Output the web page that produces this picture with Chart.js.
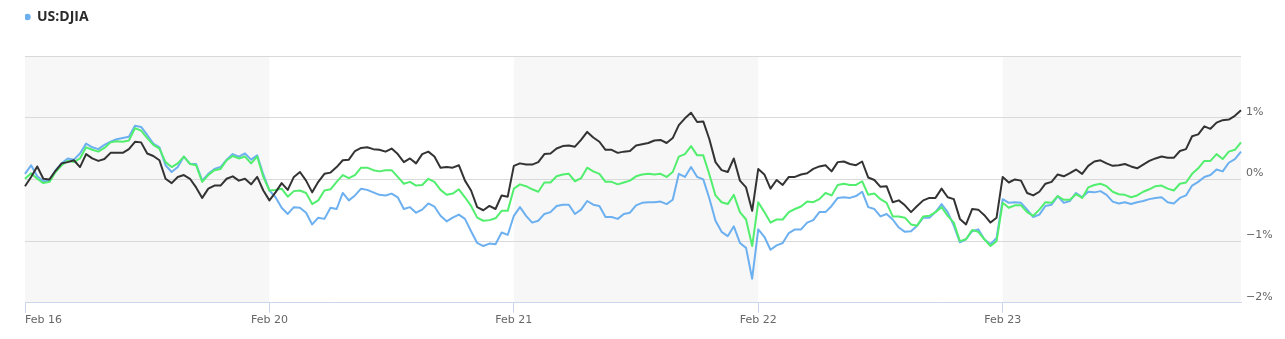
<!DOCTYPE html>
<html><head><meta charset="utf-8">
<script src="https://cdn.jsdelivr.net/npm/chart.js@4.4.0/dist/chart.umd.min.js"></script>
<style>html,body{margin:0;padding:0;background:#fff;overflow:hidden}</style>
</head><body>
<canvas id="c" width="1285" height="339"></canvas>
<script>
const dayLabels = ['Feb 16', 'Feb 20', 'Feb 21', 'Feb 22', 'Feb 23'];
const pointsPerDay = 40;
const yTickValues = [-2, -1, 0, 1, 2];
const seriesNames = ['Index A', 'Index B', 'US:DJIA'];

// values in %, 40 samples per trading day
const seriesBlack = [
  -0.11, 0.04, 0.21, 0.01, 0.00, 0.14, 0.26, 0.28, 0.31, 0.20, 0.41, 0.34, 0.30, 0.33, 0.43, 0.43, 0.43, 0.49, 0.61, 0.60, 0.42, 0.38, 0.31, 0.01, -0.06, 0.04, 0.07, 0.01, -0.13, -0.30, -0.15, -0.10, -0.10, 0.01, 0.05, -0.02, 0.01, -0.08, 0.04, -0.18,
  -0.34, -0.21, -0.06, -0.17, 0.04, 0.12, -0.02, -0.21, -0.04, 0.09, 0.11, 0.20, 0.31, 0.32, 0.46, 0.51, 0.52, 0.49, 0.48, 0.45, 0.50, 0.41, 0.28, 0.34, 0.26, 0.41, 0.45, 0.37, 0.19, 0.20, 0.19, 0.23, -0.02, -0.18, -0.45, -0.50, -0.43, -0.48, -0.26, -0.28,
  0.22, 0.26, 0.24, 0.24, 0.28, 0.41, 0.42, 0.50, 0.54, 0.55, 0.53, 0.64, 0.77, 0.68, 0.61, 0.48, 0.48, 0.43, 0.45, 0.46, 0.55, 0.57, 0.59, 0.63, 0.64, 0.59, 0.67, 0.88, 0.99, 1.08, 0.93, 0.94, 0.65, 0.28, 0.15, 0.12, 0.34, -0.02, -0.13, -0.51,
  0.17, 0.08, -0.15, -0.01, -0.09, 0.04, 0.04, 0.08, 0.10, 0.17, 0.21, 0.23, 0.13, 0.28, 0.29, 0.25, 0.23, 0.29, 0.03, -0.01, -0.12, -0.11, -0.37, -0.34, -0.42, -0.53, -0.43, -0.34, -0.30, -0.30, -0.15, -0.29, -0.32, -0.64, -0.73, -0.48, -0.49, -0.58, -0.70, -0.62,
  0.04, -0.05, 0.00, -0.02, -0.22, -0.26, -0.20, -0.07, -0.04, 0.08, 0.05, 0.10, 0.16, 0.09, 0.22, 0.29, 0.31, 0.26, 0.22, 0.23, 0.25, 0.21, 0.18, 0.24, 0.30, 0.34, 0.37, 0.35, 0.35, 0.46, 0.49, 0.70, 0.73, 0.86, 0.82, 0.92, 0.96, 0.97, 1.03, 1.12
];
const seriesGreen = [
  0.01, 0.10, 0.01, -0.06, -0.04, 0.12, 0.23, 0.30, 0.28, 0.34, 0.52, 0.48, 0.45, 0.51, 0.60, 0.62, 0.61, 0.63, 0.83, 0.79, 0.67, 0.56, 0.50, 0.28, 0.20, 0.26, 0.37, 0.25, 0.23, -0.04, 0.07, 0.15, 0.17, 0.31, 0.38, 0.34, 0.37, 0.26, 0.37, 0.04,
  -0.18, -0.17, -0.15, -0.28, -0.19, -0.18, -0.22, -0.40, -0.34, -0.18, -0.16, -0.04, 0.07, 0.02, 0.07, 0.19, 0.19, 0.15, 0.13, 0.15, 0.15, 0.04, -0.07, -0.04, -0.10, -0.09, 0.01, -0.04, -0.17, -0.25, -0.23, -0.16, -0.29, -0.43, -0.62, -0.67, -0.66, -0.63, -0.51, -0.51,
  -0.15, -0.08, -0.11, -0.16, -0.20, -0.05, -0.05, 0.05, 0.08, 0.09, -0.03, 0.02, 0.19, 0.13, 0.09, -0.04, -0.04, -0.08, -0.05, -0.02, 0.05, 0.08, 0.09, 0.08, 0.09, 0.04, 0.12, 0.37, 0.41, 0.54, 0.39, 0.39, 0.08, -0.26, -0.37, -0.40, -0.25, -0.53, -0.65, -1.08,
  -0.37, -0.53, -0.70, -0.65, -0.65, -0.53, -0.48, -0.44, -0.36, -0.37, -0.32, -0.22, -0.26, -0.09, -0.07, -0.09, -0.09, -0.03, -0.25, -0.23, -0.32, -0.38, -0.60, -0.60, -0.62, -0.73, -0.75, -0.60, -0.59, -0.53, -0.45, -0.59, -0.70, -1.00, -0.97, -0.82, -0.85, -0.97, -1.08, -1.00,
  -0.38, -0.46, -0.42, -0.42, -0.53, -0.59, -0.49, -0.37, -0.38, -0.27, -0.33, -0.33, -0.24, -0.30, -0.13, -0.09, -0.07, -0.11, -0.20, -0.24, -0.25, -0.29, -0.26, -0.20, -0.16, -0.11, -0.10, -0.15, -0.18, -0.07, -0.05, 0.09, 0.18, 0.30, 0.30, 0.41, 0.33, 0.45, 0.48, 0.60
];
const seriesDjia = [
  0.09, 0.23, 0.05, -0.03, -0.02, 0.15, 0.26, 0.34, 0.32, 0.42, 0.58, 0.52, 0.49, 0.56, 0.61, 0.65, 0.67, 0.69, 0.87, 0.85, 0.72, 0.58, 0.52, 0.23, 0.12, 0.20, 0.37, 0.25, 0.25, -0.02, 0.09, 0.17, 0.20, 0.32, 0.41, 0.37, 0.42, 0.32, 0.39, 0.08,
  -0.18, -0.29, -0.46, -0.56, -0.45, -0.46, -0.54, -0.73, -0.62, -0.64, -0.46, -0.48, -0.22, -0.34, -0.26, -0.15, -0.17, -0.21, -0.25, -0.26, -0.23, -0.29, -0.48, -0.45, -0.54, -0.49, -0.39, -0.44, -0.59, -0.68, -0.62, -0.57, -0.64, -0.84, -1.03, -1.08, -1.04, -1.05, -0.86, -0.90,
  -0.59, -0.45, -0.59, -0.70, -0.67, -0.56, -0.53, -0.43, -0.41, -0.41, -0.56, -0.49, -0.35, -0.41, -0.43, -0.61, -0.61, -0.64, -0.56, -0.54, -0.42, -0.38, -0.37, -0.37, -0.36, -0.40, -0.33, 0.09, 0.04, 0.20, 0.04, 0.00, -0.31, -0.67, -0.85, -0.92, -0.76, -1.03, -1.11, -1.61,
  -0.81, -0.93, -1.14, -1.07, -1.03, -0.87, -0.81, -0.81, -0.70, -0.66, -0.53, -0.53, -0.43, -0.30, -0.29, -0.30, -0.27, -0.20, -0.45, -0.48, -0.60, -0.56, -0.65, -0.78, -0.85, -0.84, -0.75, -0.62, -0.62, -0.53, -0.40, -0.53, -0.75, -1.02, -0.97, -0.84, -0.81, -0.97, -1.05, -0.95,
  -0.32, -0.38, -0.37, -0.38, -0.49, -0.61, -0.57, -0.43, -0.41, -0.27, -0.38, -0.35, -0.22, -0.29, -0.20, -0.21, -0.19, -0.25, -0.36, -0.39, -0.37, -0.40, -0.37, -0.35, -0.32, -0.30, -0.29, -0.37, -0.39, -0.30, -0.26, -0.10, -0.04, 0.04, 0.07, 0.16, 0.13, 0.27, 0.33, 0.45
];

const categoryLabels = [];
dayLabels.forEach(d => { for (let k = 0; k < pointsPerDay; k++) categoryLabels.push(k === 0 ? d : ''); });
const lastIndex = categoryLabels.length - 1;

const tickFont = { family: '"DejaVu Sans", sans-serif', size: 11 };

const bandPlugin = {
  id: 'dayBands',
  beforeDraw(chart) {
    const { ctx, chartArea: a, scales: { x } } = chart;
    ctx.save();
    ctx.fillStyle = '#f7f7f7';
    for (let d = 0; d < dayLabels.length; d += 2) {
      const x0 = x.getPixelForValue(d * pointsPerDay);
      const x1 = d + 1 < dayLabels.length ? x.getPixelForValue((d + 1) * pointsPerDay) : a.right;
      ctx.fillRect(x0, a.top, x1 - x0, a.bottom - a.top);
    }
    ctx.restore();
  }
};
const legendSpace = {
  id: 'legendSpace',
  beforeLayout(chart) {
    const lg = chart.legend;
    if (lg && !lg._patched) {
      const fit = lg.fit;
      lg.fit = function () { fit.call(this); this.height += 22; };
      lg._patched = true;
    }
  }
};

new Chart(document.getElementById('c'), {
  type: 'line',
  data: {
    labels: categoryLabels,
    datasets: [
      { label: seriesNames[0], data: seriesBlack, borderColor: '#333333', backgroundColor: '#333333' },
      { label: seriesNames[1], data: seriesGreen, borderColor: '#52ee6e', backgroundColor: '#52ee6e' },
      { label: seriesNames[2], data: seriesDjia, borderColor: '#6cb0f0', backgroundColor: '#6cb0f0' }
    ]
  },
  options: {
    responsive: false,
    devicePixelRatio: 1,
    animation: false,
    events: [],
    elements: {
      line: { borderWidth: 2, tension: 0, borderJoinStyle: 'round', fill: false },
      point: { radius: 0, hoverRadius: 0 }
    },
    layout: { padding: { left: 25, right: 0, top: 10, bottom: 11 } },
    plugins: {
      tooltip: { enabled: false },
      legend: {
        position: 'top',
        align: 'start',
        labels: {
          usePointStyle: true,
          pointStyle: 'circle',
          boxWidth: 5,
          boxHeight: 4.5,
          padding: 0,
          color: '#2b2b2b',
          font: { family: '"Open Sans", sans-serif', size: 14, weight: 'bold' },
          generateLabels(chart) {
            return Chart.defaults.plugins.legend.labels.generateLabels(chart)
              .filter(i => i.datasetIndex === 2)
              .map(i => Object.assign(i, { lineWidth: 0 }));
          }
        }
      }
    },
    scales: {
      x: {
        type: 'category',
        offset: false,
        afterBuildTicks(axis) {
          axis.ticks = axis.ticks.filter(t => t.value % pointsPerDay === 0 || t.value === lastIndex);
        },
        grid: {
          drawOnChartArea: false,
          drawTicks: true,
          tickLength: 10,
          color: (c) => (c.tick && c.tick.value === lastIndex) ? 'rgba(0,0,0,0)' : '#ccd6eb'
        },
        border: { display: true, color: '#ccd6eb' },
        ticks: { autoSkip: false, maxRotation: 0, align: 'inner', padding: 1, color: '#666666', font: tickFont }
      },
      y: {
        position: 'right',
        min: yTickValues[0],
        max: yTickValues[yTickValues.length - 1],
        afterBuildTicks(axis) { axis.ticks = yTickValues.map(v => ({ value: v })); },
        afterFit(s) { s.width = 44; },
        grid: { color: '#d9d9d9', drawTicks: false },
        border: { display: false },
        ticks: {
          padding: 5,
          labelOffset: -6,
          color: '#666666',
          font: tickFont,
          callback: (v) => v === 2 ? '' : (v < 0 ? '\u2212' + Math.abs(v) : String(v)) + '%'
        }
      }
    }
  },
  plugins: [bandPlugin, legendSpace]
});
</script>
</body></html>
